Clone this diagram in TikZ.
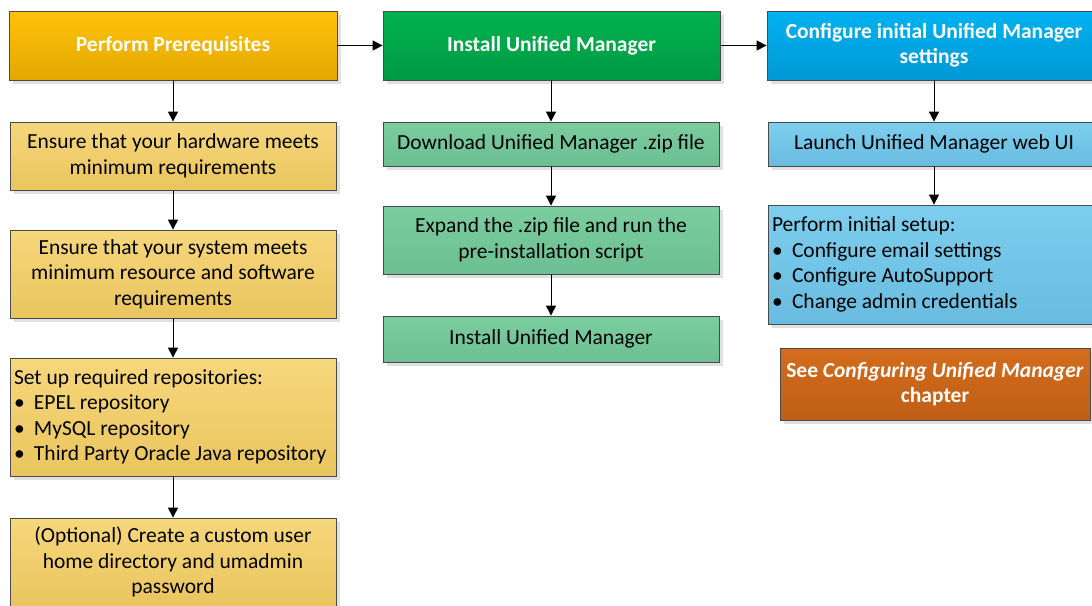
\documentclass[tikz,border=0pt]{standalone}
\usepackage{fontspec}
\setmainfont{Carlito}
\usetikzlibrary{arrows.meta,shadows}
\definecolor{bordc}{HTML}{4A4A4A}
\definecolor{yelT}{HTML}{FFC20A}
\definecolor{yelB}{HTML}{E2A800}
\definecolor{grnT}{HTML}{00B34E}
\definecolor{grnB}{HTML}{009A43}
\definecolor{bluT}{HTML}{00B2F0}
\definecolor{bluB}{HTML}{0098D4}
\definecolor{orgT}{HTML}{D46C1C}
\definecolor{orgB}{HTML}{BF5E16}
\definecolor{lyelT}{HTML}{F6D77C}
\definecolor{lyelB}{HTML}{EAC55E}
\definecolor{lgrnT}{HTML}{7BCDA0}
\definecolor{lgrnB}{HTML}{6CBF92}
\definecolor{lbluT}{HTML}{7DCEEE}
\definecolor{lbluB}{HTML}{69BCE0}
\tikzset{
  box/.style={draw=bordc, line width=0.8pt, inner sep=4pt, align=center,
    font=\fontsize{21.5}{25.5}\selectfont,
    drop shadow={shadow xshift=4pt, shadow yshift=-4pt, fill=black!12, opacity=1}},
  head/.style={box, text=white, font=\bfseries\fontsize{21.5}{25.5}\selectfont},
  yhead/.style={head, top color=yelT, bottom color=yelB},
  ghead/.style={head, top color=grnT, bottom color=grnB},
  bhead/.style={head, top color=bluT, bottom color=bluB},
  ohead/.style={head, top color=orgT, bottom color=orgB},
  ysub/.style={box, top color=lyelT, bottom color=lyelB},
  gsub/.style={box, top color=lgrnT, bottom color=lgrnB},
  bsub/.style={box, top color=lbluT, bottom color=lbluB},
  conn/.style={draw=black, line width=1pt, -{Triangle[length=10pt,width=10pt]}}
}
\newcommand{\bul}[1]{\makebox[20pt][l]{\textbullet}#1}
\begin{document}
\begin{tikzpicture}[x=1pt,y=-1pt]
\useasboundingbox (0,0) rectangle (1092,605);
% headers
\node[yhead, minimum width=328pt, minimum height=69pt] (h1) at (173,45.5) {Perform Prerequisites};
\node[ghead, minimum width=337pt, minimum height=69pt] (h2) at (551.5,45.5) {Install Unified Manager};
\node[bhead, minimum width=334pt, minimum height=69pt] (h3) at (934,45.5) {Configure initial Unified Manager\\settings};
% left column
\node[ysub, minimum width=326pt, minimum height=68pt] (l1) at (173,156) {Ensure that your hardware meets\\minimum requirements};
\node[ysub, minimum width=326pt, minimum height=88pt] (l2) at (173,274) {Ensure that your system meets\\minimum resource and software\\requirements};
\node[ysub, minimum width=326pt, minimum height=118pt, text width=318pt, align=flush left] (l3) at (173,417) {Set up required repositories:\\\bul{EPEL repository}\\\bul{MySQL repository}\\\bul{Third Party Oracle Java repository}};
\node[ysub, minimum width=326pt, minimum height=88pt] (l4) at (173,562) {(Optional) Create a custom user\\home directory and umadmin\\password};
% middle column
\node[gsub, minimum width=336pt, minimum height=44pt] (m1) at (551,144) {Download Unified Manager .zip file};
\node[gsub, minimum width=336pt, minimum height=68pt] (m2) at (551,240) {Expand the .zip file and run the\\pre-installation script};
\node[gsub, minimum width=336pt, minimum height=46pt] (m3) at (551,339) {Install Unified Manager};
% right column
\node[bsub, minimum width=332pt, minimum height=44pt] (r1) at (934,144) {Launch Unified Manager web UI};
\node[bsub, minimum width=332pt, minimum height=119pt, text width=324pt, align=flush left] (r2) at (934,264.5) {Perform initial setup:\\\bul{Configure email settings}\\\bul{Configure AutoSupport}\\\bul{Change admin credentials}};
\node[ohead, minimum width=310pt, minimum height=72pt] (r3) at (935,384) {See \textit{Configuring Unified Manager}\\chapter};
% connectors
\draw[conn] (h1) -- (h2);
\draw[conn] (h2) -- (h3);
\draw[conn] (h1) -- (l1);
\draw[conn] (l1) -- (l2);
\draw[conn] (l2) -- (l3);
\draw[conn] (l3) -- (l4);
\draw[conn] (h2.south -| m1.north) -- (m1);
\draw[conn] (m1) -- (m2);
\draw[conn] (m2) -- (m3);
\draw[conn] (h3) -- (r1);
\draw[conn] (r1) -- (r2);
\end{tikzpicture}
\end{document}
